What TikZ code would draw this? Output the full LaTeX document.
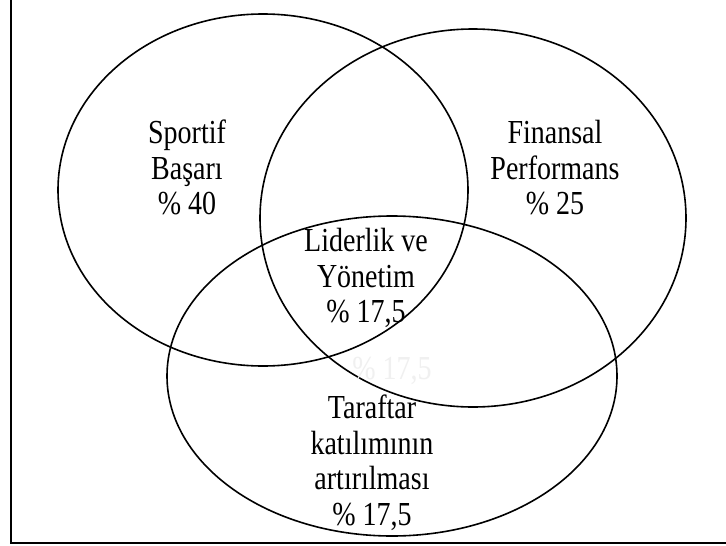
\documentclass[tikz,border=0pt]{standalone}
\usepackage{fontspec}
\setmainfont{Liberation Serif}
\newcommand{\tallbox}[1]{\scalebox{1}[1.2]{\begin{tabular}{@{}c@{}}#1\end{tabular}}}
\begin{document}
\begin{tikzpicture}[x=1pt,y=-1pt,
  ring/.style={draw=black,line width=1.6pt},
  lbl/.style={align=center,font=\fontsize{28}{29.5}\selectfont,inner sep=0pt},
  frame/.style={draw=black,line width=2.6pt}]
\useasboundingbox (0,0) rectangle (726,546);
\fill[white] (0,0) rectangle (726,546);
\draw[frame] (11,-5) -- (11,543) -- (740,543);
\draw[ring] (263,190) ellipse [x radius=205, y radius=176];
\draw[ring] (473,218) ellipse [x radius=213, y radius=189];
\draw[ring] (392,376) ellipse [x radius=225, y radius=160];
\node[lbl] (sp) at (187,172) {\tallbox{Sportif\\Başarı\\\% 40}};
\node[lbl] (fi) at (555,172) {\tallbox{Finansal\\Performans\\\% 25}};
\node[lbl] (li) at (366,280) {\tallbox{Liderlik ve\\Yönetim\\\% 17,5}};
\node[lbl,text=black!6] (gh) at (392,372) {\tallbox{\% 17,5}};
\node[lbl] (ta) at (372,465) {\tallbox{Taraftar\\katılımının\\artırılması\\\% 17,5}};
\end{tikzpicture}
\end{document}
